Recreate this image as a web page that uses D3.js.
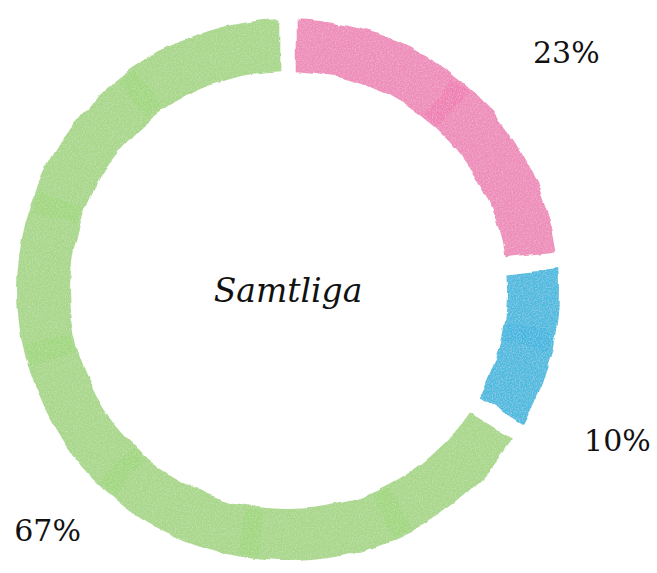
<!DOCTYPE html>
<html>
<head>
<meta charset="utf-8">
<script src="https://cdn.jsdelivr.net/npm/d3@7"></script>
<style>
  html, body { margin: 0; padding: 0; background: #fff; }
  svg { display: block; }
</style>
</head>
<body>
<div id="chartArea"></div>
<script>
// data
const categories = ["Rosa", "Blå", "Grön"];
const shares = [23, 10, 67];
const labels = ["23%", "10%", "67%"];
const centerTitle = "Samtliga";

// colour pallete (watercolour-ish)
const colors = ["#ee8cba", "#4dbadf", "#a8d78a"];

const W = 657, H = 573;
const cx = 288, cy = 290;
const rOuter = 271, rInner = 219;

// where the % labels sit (angle in degrees from 12 o'clock, radius)
const labelPos = [
  {a: 49.5, r: 366},
  {a: 114.5, r: 362},
  {a: 225, r: 340}
];

const svg = d3.select("#chartArea").append("svg")
  .attr("width", W)
  .attr("height", H);

// rough edge + light paper grain
const defs = svg.append("defs");
const f = defs.append("filter")
  .attr("id", "wc")
  .attr("x", "-10%").attr("y", "-10%")
  .attr("width", "120%").attr("height", "120%");
f.append("feTurbulence")
  .attr("type", "fractalNoise")
  .attr("baseFrequency", 0.03)
  .attr("numOctaves", 3)
  .attr("seed", 4)
  .attr("result", "noise");
f.append("feDisplacementMap")
  .attr("in", "SourceGraphic")
  .attr("in2", "noise")
  .attr("scale", 8)
  .attr("xChannelSelector", "R")
  .attr("yChannelSelector", "G")
  .attr("result", "rough");
f.append("feTurbulence")
  .attr("type", "fractalNoise")
  .attr("baseFrequency", 0.7)
  .attr("numOctaves", 2)
  .attr("seed", 9)
  .attr("result", "grain");
f.append("feColorMatrix")
  .attr("in", "grain")
  .attr("type", "matrix")
  .attr("values", "0 0 0 0 1  0 0 0 0 1  0 0 0 0 1  0.5 0 0 0 -0.2")
  .attr("result", "grainA");
f.append("feComposite")
  .attr("in", "grainA")
  .attr("in2", "rough")
  .attr("operator", "in")
  .attr("result", "grainIn");
f.append("feMerge").call(m => {
  m.append("feMergeNode").attr("in", "rough");
  m.append("feMergeNode").attr("in", "grainIn");
});

const pie = d3.pie()
  .value(d => d)
  .sort(null)
  .padAngle(0.05);

const arc = d3.arc()
  .innerRadius(rInner)
  .outerRadius(rOuter);

const g = svg.append("g")
  .attr("transform", `translate(${cx},${cy})`);

const arcs = pie(shares);

g.selectAll("path.seg")
  .data(arcs)
  .enter()
  .append("path")
    .attr("class", "seg")
    .attr("d", arc)
    .attr("fill", (d, i) => colors[i])
    .attr("filter", "url(#wc)");

// a few deeper brush overlaps, like the painted strokes
const streak = d3.arc()
  .innerRadius(rInner + 3)
  .outerRadius(rOuter - 3);
const deeper = c => {
  const h = d3.hsl(c);
  h.s = Math.min(1, h.s + 0.15);
  h.l -= 0.1;
  return h.formatHex();
};
const strokeBits = [];
arcs.forEach((d, i) => {
  const span = d.endAngle - d.startAngle - d.padAngle;
  const n = Math.max(2, Math.round(span / 0.6));
  for (let k = 1; k < n; k++) {
    const t = d.startAngle + d.padAngle / 2 + span * k / n;
    strokeBits.push({startAngle: t - 0.07, endAngle: t + 0.01, c: colors[i]});
  }
});
g.selectAll("path.streak")
  .data(strokeBits)
  .enter()
  .append("path")
    .attr("class", "streak")
    .attr("d", streak)
    .attr("fill", d => deeper(d.c))
    .attr("opacity", 0.22)
    .attr("filter", "url(#wc)");

// center title
g.append("text")
  .attr("x", 0)
  .attr("y", 12)
  .attr("text-anchor", "middle")
  .attr("font-family", "'DejaVu Serif', serif")
  .attr("font-style", "italic")
  .attr("font-size", "33px")
  .attr("fill", "#111")
  .text(centerTitle);

// percent labels
g.selectAll("text.pct")
  .data(labels)
  .enter()
  .append("text")
    .attr("class", "pct")
    .attr("x", (d, i) => labelPos[i].r * Math.sin(labelPos[i].a * Math.PI / 180))
    .attr("y", (d, i) => -labelPos[i].r * Math.cos(labelPos[i].a * Math.PI / 180))
    .attr("dy", "0.35em")
    .attr("text-anchor", "middle")
    .attr("font-family", "'DejaVu Serif', serif")
    .attr("font-size", "30px")
    .attr("fill", "#111")
    .text(d => d);
</script>
</body>
</html>
